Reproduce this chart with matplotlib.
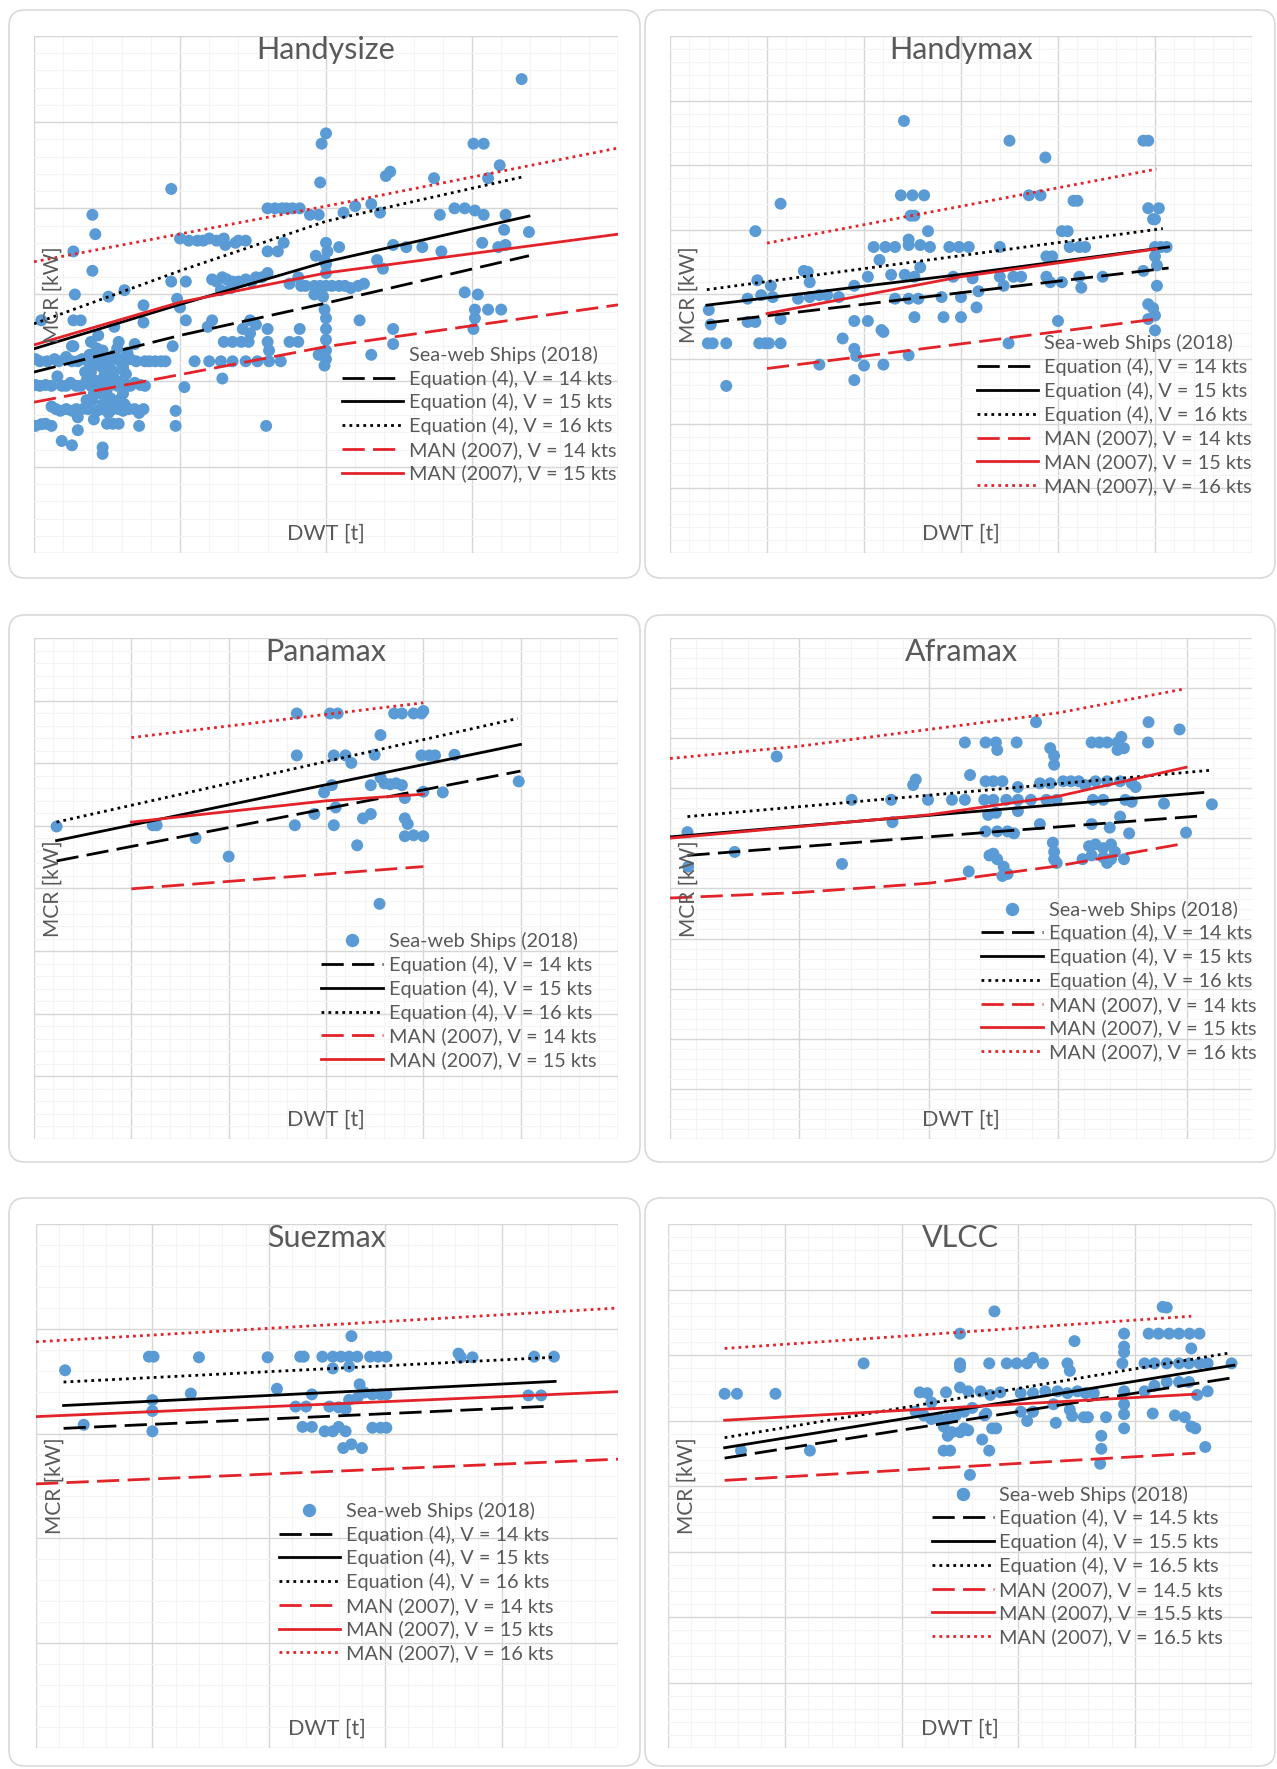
import matplotlib.pyplot as plt
import numpy as np
from matplotlib.patches import FancyBboxPatch
from matplotlib.lines import Line2D
from matplotlib.ticker import MultipleLocator, AutoMinorLocator
from matplotlib.transforms import IdentityTransform

plt.rcParams['font.family'] = ['Lato', 'DejaVu Sans']

# ---------------------------------------------------------------
# Data.  DWT in kt, MCR in MW (drawn as t / kW)
# ---------------------------------------------------------------
handysize_dwt = [43.4, 30.0, 29.7, 40.1, 40.8, 41.9, 41.1, 34.1, 34.4, 29.6, 37.4, 19.4, 14.0, 14.2, 12.7,
                 14.0, 12.8, 15.1, 16.2, 10.5, 12.7, 13.2, 26.0, 27.0, 27.7, 28.9, 29.5, 31.2, 32.0, 33.1,
                 33.7, 37.8, 38.8, 39.5, 40.2, 40.8, 42.3, 42.2, 43.9, 40.7, 41.8, 42.3, 20.0, 21.2, 22.0,
                 23.0, 23.1, 23.8, 24.0, 26.0, 26.7, 27.1, 30.0, 30.1, 30.9, 29.3, 29.9, 34.6, 35.5, 36.6,
                 37.9, 33.5, 33.9, 19.4, 20.4, 19.8, 20.0, 20.4, 22.8, 23.5, 22.2, 22.9, 23.6, 24.5, 25.2,
                 26.0, 28.1, 28.6, 29.2, 30.0, 30.9, 31.7, 32.6, 29.8, 29.9, 29.2, 32.3, 39.5, 40.4, 40.2,
                 40.2, 41.1, 42.0, 40.1, 34.6, 34.6, 26.0, 25.2, 24.3, 22.2, 21.9, 28.2, 27.5, 28.1, 30.0,
                 30.0, 30.0, 26.0, 26.1, 23.0, 23.6, 24.2, 24.7, 29.5, 30.0, 33.1, 19.5, 21.0, 22.0, 22.8,
                 23.6, 24.5, 25.3, 26.1, 26.9, 22.9, 20.3, 25.9, 19.7, 19.7,
                 10.1, 11.4, 12.2, 13.3, 14.4, 15.5, 16.6, 17.6, 18.7, 10.1, 10.8, 11.6, 12.5, 13.6, 14.4,
                 15.3, 16.1, 16.9, 17.3, 12.7, 13.9, 14.7, 15.8, 16.9, 17.5, 17.5, 13.9, 14.7, 15.5, 16.1,
                 15.0, 14.1, 15.2, 16.1, 11.8, 12.6, 13.4, 14.3, 15.1, 16.1, 17.2, 13.6, 14.7, 13.0, 14.1,
                 10.1, 10.8, 13.0, 15.0, 15.8, 17.2, 11.9, 12.6, 14.7, 14.7, 12.6, 11.2, 14.4, 15.5, 15.0,
                 15.7,
                 10.4, 10.9, 11.7, 12.6, 13.0, 13.7, 14.0, 14.9, 15.2, 15.9, 16.2, 17.0, 17.9, 18.3, 19.0,
                 10.4, 11.2, 11.9, 12.2, 12.9, 13.2, 13.9, 14.7, 15.0, 15.7, 16.4, 16.6, 17.6,
                 13.5, 13.8, 14.2, 14.5, 14.8, 15.1, 15.3, 15.6, 15.9, 16.3, 14.0, 14.6, 15.0, 15.4, 15.8,
                 16.2, 14.3, 15.7, 16.4,
                 11.5, 12.2, 12.9, 13.7, 14.6, 15.4, 15.8, 16.5, 16.9, 17.5, 10.5, 11.2, 15.4,
                 24.8, 24.8, 20.6, 21.6, 22.5, 24.5, 22.5, 23.2, 24.0, 24.9, 25.6, 27.5, 28.3, 29.6, 30.4,
                 31.3, 32.2, 26.5, 27.3, 28.2, 30.0, 30.0, 30.0, 29.9]
handysize_mcr = [11.0, 9.74, 9.5, 9.5, 9.5, 9.0, 8.7, 8.75, 8.85, 8.6, 8.7, 8.45, 7.85, 7.4, 7.0,
                 6.55, 6.0, 5.95, 6.1, 5.4, 5.4, 5.4, 8.0, 8.0, 8.0, 7.85, 7.85, 7.9, 8.05, 8.1,
                 7.9, 7.85, 8.0, 8.0, 7.95, 7.85, 7.85, 7.5, 7.45, 7.2, 7.1, 7.15, 7.3, 7.25, 7.3,
                 7.3, 7.15, 7.2, 7.25, 7.0, 7.0, 7.2, 7.2, 7.0, 7.1, 6.9, 6.8, 7.15, 7.1, 7.1,
                 7.0, 6.8, 6.6, 6.3, 6.3, 5.9, 5.7, 5.4, 6.1, 6.15, 6.35, 6.4, 6.3, 6.35, 6.4,
                 6.5, 6.4, 6.2, 6.2, 6.2, 6.2, 6.15, 6.25, 5.95, 5.65, 6.0, 5.4, 6.05, 6.0, 5.65,
                 5.45, 5.65, 5.65, 5.2, 5.2, 4.85, 5.2, 5.3, 5.2, 5.4, 5.25, 5.2, 4.9, 4.9, 5.2,
                 4.95, 4.7, 4.9, 4.7, 4.9, 4.9, 4.9, 4.9, 4.6, 4.5, 4.6, 4.8, 4.45, 4.45, 4.45,
                 4.45, 4.45, 4.45, 4.45, 4.45, 4.05, 3.85, 2.95, 3.3, 2.95,
                 4.5, 4.5, 4.55, 4.5, 4.55, 4.6, 4.5, 4.45, 4.45, 3.9, 3.9, 4.1, 3.95, 4.0, 3.95,
                 3.95, 4.0, 3.95, 3.9, 4.8, 4.9, 4.7, 4.9, 4.85, 5.35, 5.75, 4.2, 4.3, 4.2, 4.3,
                 4.1, 3.7, 3.6, 3.7, 3.3, 3.3, 3.35, 3.3, 3.25, 3.3, 3.25, 3.55, 3.45, 3.15, 3.1,
                 2.95, 3.0, 2.85, 3.0, 3.0, 2.95, 2.6, 2.5, 2.45, 2.3, 4.8, 3.4, 5.05, 5.25, 3.8,
                 3.9,
                 4.45, 4.45, 4.45, 4.45, 4.45, 4.45, 4.45, 4.45, 4.45, 4.45, 4.45, 4.45, 4.45, 4.45, 4.45,
                 3.88, 3.88, 3.88, 3.88, 3.88, 3.88, 3.88, 3.88, 3.88, 3.88, 3.88, 3.88, 3.88,
                 4.2, 4.6, 4.0, 4.35, 4.1, 4.45, 4.25, 4.0, 4.5, 4.15, 3.55, 3.7, 3.5, 3.4, 3.55,
                 3.45, 4.75, 4.75, 4.65,
                 3.34, 3.34, 3.34, 3.34, 3.34, 3.34, 3.34, 3.34, 3.34, 3.34, 2.99, 2.95, 3.0,
                 5.4, 5.1, 7.25, 7.25, 7.25, 7.25, 6.3, 6.35, 6.3, 6.3, 6.4, 6.25, 6.2, 6.2, 6.2,
                 6.2, 6.2, 8.0, 8.0, 8.0, 5.45, 6.5, 6.7, 4.35]
handysize_speeds = [14, 15, 16]
handysize_lines = {
    'eq_lo': ([10, 20, 30, 43.9], [4.20, 5.05, 5.80, 6.90]),
    'eq_mid': ([10, 20, 30, 43.9], [4.74, 5.77, 6.76, 7.82]),
    'eq_hi': ([10, 20, 30, 43.6], [5.32, 6.55, 7.70, 8.74]),
    'man_lo': ([10, 20, 30, 50], [3.50, 4.14, 4.79, 5.76]),
    'man_mid': ([10, 20, 30, 50], [4.83, 5.82, 6.50, 7.40]),
    'man_hi': ([10, 30, 50], [6.76, 8.05, 9.40]),
}

handymax_dwt = [42.06, 47.5, 54.4, 54.65, 49.35, 41.9, 42.5, 43.1, 48.5, 49.1, 50.8, 51.0, 42.4, 42.6, 35.7,
                34.4, 43.3, 50.2, 50.5, 54.65, 55.2, 55.0, 54.9, 40.5, 41.1, 41.6, 42.3, 42.9, 43.4, 42.3,
                44.4, 44.9, 45.4, 47.0, 49.4, 49.7, 50.6, 51.1, 51.4, 55.0, 55.3, 55.6, 55.0, 55.1, 55.1,
                54.65, 54.9, 55.0, 55.0, 54.65, 40.8, 36.9, 37.2, 37.1, 34.5, 35.2, 34.0, 34.7, 35.3, 36.6,
                37.2, 37.7, 38.1, 38.7, 39.5, 40.2, 41.4, 42.1, 42.6, 42.9, 41.6, 42.3, 42.8, 44.0, 44.6,
                45.0, 45.6, 45.9, 47.0, 47.2, 47.7, 48.1, 49.4, 49.6, 50.2, 51.1, 51.2, 52.3, 54.4, 32.0,
                32.1, 34.0, 34.4, 35.7, 31.95, 32.2, 32.9, 34.6, 34.9, 35.1, 35.7, 39.5, 40.2, 40.9, 41.0,
                42.6, 44.1, 45.0, 45.8, 50.0, 38.9, 39.5, 39.6, 40.0, 37.7, 41.0, 42.3, 39.5, 32.9, 47.45]
handymax_mcr = [13.37, 12.76, 12.76, 12.76, 12.24, 11.07, 11.07, 11.07, 11.07, 11.07, 10.9, 10.9, 10.44, 10.44, 10.81,
                9.96, 9.96, 9.96, 9.96, 10.67, 10.67, 10.33, 10.33, 9.47, 9.47, 9.47, 9.53, 9.53, 9.47, 9.7,
                9.47, 9.47, 9.47, 9.47, 9.18, 9.18, 9.47, 9.47, 9.47, 9.47, 9.47, 9.47, 9.18, 8.9, 8.27,
                7.7, 7.58, 7.35, 6.89, 7.24, 9.07, 8.73, 8.38, 8.7, 8.44, 8.27, 7.87, 7.98, 7.92, 7.87,
                7.92, 7.98, 7.98, 7.92, 8.27, 8.55, 8.61, 8.61, 8.55, 8.84, 7.87, 7.87, 7.87, 7.92, 8.55,
                7.92, 8.5, 8.1, 8.55, 8.27, 8.55, 8.55, 8.55, 8.38, 8.38, 8.55, 8.21, 8.55, 8.73, 7.52,
                7.07, 7.15, 7.15, 7.24, 6.49, 6.49, 6.49, 6.49, 6.49, 6.49, 6.49, 7.18, 7.18, 6.9, 6.84,
                7.3, 7.3, 7.3, 7.6, 7.18, 6.64, 6.32, 6.1, 5.8, 5.83, 5.83, 6.12, 5.35, 5.17, 6.49]
handymax_speeds = [14, 15, 16]
handymax_lines = {
    'eq_lo': ([31.9, 55.7], [7.12, 8.82]),
    'eq_mid': ([31.9, 45, 55.7], [7.67, 8.62, 9.47]),
    'eq_hi': ([31.9, 55.4], [8.15, 10.04]),
    'man_lo': ([35, 55.07], [5.71, 7.24]),
    'man_mid': ([35, 45, 55.07], [7.41, 8.55, 9.41]),
    'man_hi': ([35, 55.07], [9.59, 11.88]),
}

panamax_dwt = [46.16, 51.1, 51.3, 53.3, 55.0, 58.5, 60.2, 60.6, 58.5, 60.4, 61.0, 61.3, 62.5, 62.8, 58.4,
               59.4, 59.9, 60.3, 60.5, 60.4, 61.6, 61.9, 62.3, 62.3, 62.8, 63.0, 63.3, 63.6, 63.9, 64.05,
               64.05, 64.2, 64.05, 64.5, 65.0, 63.5, 63.9, 64.5, 64.9, 65.0, 64.9, 65.3, 65.6, 66.6, 65.0,
               66.0, 69.9, 62.75]
panamax_mcr = [9.98, 10.02, 10.02, 9.61, 9.02, 13.59, 13.59, 13.59, 12.25, 12.25, 12.25, 12.01, 12.27, 12.9, 10.02,
               10.38, 11.07, 11.3, 10.59, 10.02, 9.38, 10.24, 10.38, 11.3, 11.54, 11.36, 11.33, 11.36, 11.3, 10.89,
               10.24, 10.06, 9.67, 9.7, 9.67, 13.59, 13.59, 13.59, 13.59, 13.67, 12.25, 12.25, 12.25, 12.27, 11.09,
               11.07, 11.42, 7.51]
panamax_speeds = [14, 15, 16]
panamax_lines = {
    'eq_lo': ([46.16, 69.99], [8.88, 11.75]),
    'eq_mid': ([46.16, 69.99], [9.53, 12.60]),
    'eq_hi': ([46.16, 69.84], [10.12, 13.43]),
    'man_lo': ([50, 65], [7.99, 8.70]),
    'man_mid': ([50, 60, 65], [10.12, 10.80, 11.01]),
    'man_hi': ([50, 65], [12.82, 13.93]),
}

aframax_dwt = [88.25, 81.35, 81.4, 85.0, 93.3, 94.05, 97.1, 97.2, 98.8, 99.0, 99.95, 101.8, 102.8, 102.8, 103.2,
               103.1, 104.4, 105.2, 105.3, 106.8, 108.3, 104.4, 105.0, 105.7, 104.3, 105.0, 106.0, 106.9, 107.9, 106.9,
               106.9, 104.4, 105.3, 106.1, 106.6, 104.7, 105.3, 105.8, 106.1, 105.7, 105.0, 108.6, 108.6, 109.4, 110.4,
               111.0, 111.6, 109.4, 109.7, 109.7, 109.1, 109.9, 109.6, 109.7, 109.9, 109.7, 112.1, 112.7, 113.5, 112.6,
               113.2, 113.8, 114.6, 114.9, 115.1, 114.6, 112.9, 113.8, 114.8, 115.7, 116.0, 115.2, 115.7, 112.6, 114.0,
               114.8, 115.5, 112.4, 112.9, 113.5, 114.1, 114.4, 111.9, 112.6, 113.5, 114.1, 115.1, 113.8, 117.0, 116.96,
               118.2, 119.4, 119.9, 121.9, 104.6, 105.2]
aframax_mcr = [15.27, 12.25, 10.87, 11.46, 10.98, 13.54, 13.54, 12.65, 14.13, 14.35, 13.54, 13.54, 13.54, 15.83, 14.53,
               10.68, 15.83, 15.83, 15.53, 15.83, 16.64, 14.28, 14.28, 14.28, 13.54, 13.54, 13.54, 13.54, 13.54, 14.05,
               13.09, 12.28, 12.28, 12.28, 12.2, 11.32, 11.17, 10.87, 10.58, 10.5, 11.39, 12.57, 14.2, 14.2, 14.28,
               14.28, 14.28, 15.6, 15.3, 14.94, 13.54, 13.54, 11.83, 11.46, 11.02, 11.17, 14.13, 13.54, 13.54, 15.83,
               15.83, 15.83, 15.83, 16.05, 15.6, 15.53, 14.28, 14.28, 14.28, 14.2, 14.05, 13.54, 13.46, 12.57, 12.43,
               12.87, 12.2, 11.69, 11.76, 11.61, 11.76, 11.46, 11.17, 11.32, 11.24, 11.17, 11.17, 11.02, 16.64, 15.83,
               13.39, 16.35, 12.23, 13.36, 12.94, 13.02]
aframax_speeds = [14, 15, 16]
aframax_lines = {
    'eq_lo': ([81.35, 121.35], [11.32, 12.91]),
    'eq_mid': ([80, 121.2], [12.06, 13.83]),
    'eq_hi': ([81.35, 121.8], [12.87, 14.72]),
    'man_lo': ([80, 90, 100, 110, 119.8], [9.62, 9.84, 10.21, 10.90, 11.80]),
    'man_mid': ([80, 90, 100, 110, 119.9], [12.01, 12.47, 12.94, 13.68, 14.84]),
    'man_hi': ([80, 90, 100, 110, 119.8], [15.19, 15.68, 16.35, 17.01, 17.97]),
}

suezmax_dwt = [132.5, 134.1, 139.7, 140.1, 140.0, 140.0, 140.0, 143.3, 144.0, 149.9, 150.7, 152.7, 153.0, 152.3, 153.2,
               153.7, 152.9, 153.7, 154.6, 155.5, 156.2, 156.9, 157.6, 155.5, 157.1, 156.9, 158.7, 159.4, 160.1, 155.2,
               156.0, 156.6, 156.9, 157.6, 158.2, 157.8, 158.9, 159.6, 160.1, 154.8, 155.5, 156.0, 156.6, 156.4, 157.1,
               158.0, 158.9, 159.6, 160.1, 166.3, 166.5, 167.5, 172.3, 173.4, 172.8, 174.5]
suezmax_mcr = [18.02, 15.42, 18.67, 18.67, 16.6, 16.08, 15.11, 16.91, 18.64, 18.64, 17.14, 18.67, 18.67, 16.29, 16.29,
               16.87, 15.32, 15.32, 18.67, 18.67, 18.67, 18.67, 18.67, 18.11, 19.65, 18.2, 18.67, 18.67, 18.67, 16.29,
               16.25, 16.17, 16.61, 16.7, 16.96, 17.35, 16.87, 16.87, 16.87, 15.11, 15.11, 15.32, 15.11, 14.31, 14.49,
               14.31, 15.28, 15.28, 15.28, 18.82, 18.64, 18.64, 16.82, 16.82, 18.67, 18.67]
suezmax_speeds = [14, 15, 16]
suezmax_lines = {
    'eq_lo': ([132.37, 174.24], [15.25, 16.31]),
    'eq_mid': ([132.37, 174.6], [16.34, 17.49]),
    'eq_hi': ([132.37, 174.4], [17.46, 18.64]),
    'man_lo': ([130, 180], [12.60, 13.78]),
    'man_mid': ([130, 180], [15.81, 17.0]),
    'man_hi': ([130, 180], [19.38, 20.99]),
}

vlcc_dwt = [229.7, 231.8, 238.4, 232.5, 244.3, 253.5, 275.9, 270.0, 270.0, 270.0, 275.0, 278.0, 279.7, 281.5, 282.5,
            284.2, 288.4, 288.8, 289.6, 263.1, 264.4, 265.1, 267.6, 270.0, 271.4, 273.5, 275.2, 276.9, 262.4, 263.8,
            265.1, 266.5, 267.9, 269.3, 270.7, 272.1, 274.2, 267.2, 268.6, 270.0, 271.4, 267.9, 270.7, 267.2, 268.3,
            273.8, 275.0, 275.5, 276.2, 274.5, 271.7, 270.5, 280.4, 282.5, 284.6, 286.7, 288.4, 290.1, 291.5, 292.9,
            280.4, 281.5, 282.5, 286.0, 286.4, 288.8, 289.2, 291.2, 291.9, 295.0, 294.2, 294.2, 294.0, 298.1, 298.1,
            298.1, 297.8, 298.1, 298.1, 298.1, 298.1, 303.0, 302.3, 304.0, 305.8, 307.5, 309.3, 311.0, 304.7, 305.4,
            301.6, 303.3, 305.4, 307.5, 309.2, 311.0, 312.4, 309.6, 301.6, 303.3, 305.4, 307.5, 309.2, 310.6, 312.4,
            306.8, 308.5, 309.6, 310.3, 312.0, 316.5]
vlcc_mcr = [27.04, 27.04, 27.04, 22.7, 22.7, 29.36, 33.33, 31.63, 29.36, 29.08, 29.36, 29.36, 29.36, 29.36, 29.79,
            29.36, 29.36, 28.79, 31.06, 27.15, 27.09, 26.38, 27.15, 27.52, 27.23, 27.23, 26.95, 27.15, 25.67, 25.39,
            25.11, 25.11, 25.11, 25.39, 25.67, 25.96, 25.39, 24.54, 24.11, 24.11, 24.25, 23.83, 24.4, 22.7, 22.7,
            23.55, 22.7, 24.4, 24.4, 25.53, 20.85, 19.38, 27.09, 27.09, 27.23, 27.23, 27.09, 27.23, 27.09, 27.09,
            25.67, 24.96, 25.67, 26.24, 24.82, 25.82, 25.33, 25.25, 25.25, 25.25, 23.83, 22.84, 21.7, 31.63, 30.64,
            30.21, 29.36, 27.23, 26.24, 25.48, 24.4, 25.53, 31.63, 31.63, 31.63, 31.63, 31.63, 31.63, 33.67, 33.62,
            29.36, 29.36, 29.36, 29.36, 29.36, 29.36, 29.36, 30.5, 27.23, 27.66, 27.94, 27.94, 27.94, 26.95, 27.23,
            25.39, 25.25, 24.54, 24.4, 22.98, 29.36]
vlcc_speeds = [14.5, 15.5, 16.5]
vlcc_lines = {
    'eq_lo': ([229.7, 316.9], [22.13, 28.28]),
    'eq_mid': ([229.7, 316.9], [22.92, 29.22]),
    'eq_hi': ([229.7, 315.8], [23.69, 30.13]),
    'man_lo': ([229.7, 310.3], [20.43, 22.50]),
    'man_mid': ([229.7, 310.3], [25.02, 27.01]),
    'man_hi': ([229.7, 309.6], [30.50, 32.96]),
}

# ---------------------------------------------------------------
# Styling / layout
# ---------------------------------------------------------------
W, H = 1277, 1769
BLUE = '#5b9bd5'
RED = '#e3232a'
GREY = '#595959'
DASH = (0, (8, 3))
DOT = (0, (1, 1.5))

line_order = ['eq_lo', 'eq_mid', 'eq_hi', 'man_lo', 'man_mid', 'man_hi']
line_style = {
    'eq_lo': ('k', DASH), 'eq_mid': ('k', '-'), 'eq_hi': ('k', DOT),
    'man_lo': (RED, DASH), 'man_mid': (RED, '-'), 'man_hi': (RED, DOT),
}

# title, dwt, mcr, lines, speeds, xlim, xstep, ylim, ystep,
# axes px (l, t, r, b), box px (l, t, r, b), legend anchor, legend dot, man_hi in legend
panels = [
    ('Handysize', handysize_dwt, handysize_mcr, handysize_lines, handysize_speeds,
     (10, 50), 10, (0, 12), 2, (34, 36, 618, 553), (9, 10, 640, 578), (0.527, 0.401), False, False),
    ('Handymax', handymax_dwt, handymax_mcr, handymax_lines, handymax_speeds,
     (30, 60), 5, (0, 16), 2, (670, 36, 1252, 553), (645, 10, 1275, 578), (0.527, 0.423), False, True),
    ('Panamax', panamax_dwt, panamax_mcr, panamax_lines, panamax_speeds,
     (45, 75), 5, (0, 16), 2, (34, 638, 618, 1139), (9, 615, 640, 1162), (0.492, 0.413), True, False),
    ('Aframax', aframax_dwt, aframax_mcr, aframax_lines, aframax_speeds,
     (80, 125), 10, (0, 20), 2, (670, 638, 1252, 1139), (645, 615, 1275, 1162), (0.535, 0.476), True, True),
    ('Suezmax', suezmax_dwt, suezmax_mcr, suezmax_lines, suezmax_speeds,
     (130, 180), 10, (0, 25), 5, (36, 1224, 618, 1748), (9, 1198, 640, 1766), (0.417, 0.470), True, True),
    ('VLCC', vlcc_dwt, vlcc_mcr, vlcc_lines, vlcc_speeds,
     (220, 320), 20, (0, 40), 5, (668, 1224, 1252, 1748), (645, 1198, 1275, 1766), (0.452, 0.501), True, True),
]

fig = plt.figure(figsize=(W / 100, H / 100), dpi=100)
fig.patch.set_facecolor('white')

for (title, dwt, mcr, lines, speeds, xlim, xstep, ylim, ystep,
     apx, bpx, leg_anchor, leg_dot, leg_man_hi) in panels:
    # rounded panel frame (pixel coordinates, origin bottom-left)
    bl, bt, br, bb = bpx
    frame = FancyBboxPatch((bl, H - bb), br - bl, bb - bt,
                           boxstyle='round,pad=0,rounding_size=16',
                           transform=IdentityTransform(), facecolor='none',
                           edgecolor='#d9d9d9', linewidth=1.2, zorder=0)
    fig.patches.append(frame)

    l, t, r, b = apx
    ax = fig.add_axes([l / W, 1 - b / H, (r - l) / W, (b - t) / H])
    ax.set_facecolor('none')
    ax_h = b - t

    k = 1000
    ax.set_xlim(xlim[0] * k, xlim[1] * k)
    ax.set_ylim(ylim[0] * k, ylim[1] * k)
    ax.xaxis.set_major_locator(MultipleLocator(xstep * k))
    ax.yaxis.set_major_locator(MultipleLocator(ystep * k))
    ax.xaxis.set_minor_locator(AutoMinorLocator(5))
    ax.yaxis.set_minor_locator(AutoMinorLocator(5))
    ax.set_axisbelow(True)
    ax.grid(which='major', color='#d6d6d6', linewidth=1.0)
    ax.grid(which='minor', color='#f4f4f4', linewidth=0.8)
    ax.tick_params(which='both', length=0, labelbottom=False, labelleft=False)
    for s in ax.spines.values():
        s.set_visible(False)

    ax.scatter(np.array(dwt) * k, np.array(mcr) * k, s=74, color=BLUE,
               edgecolors='none', zorder=3)

    labels = {}
    for key in ['eq', 'man']:
        src = 'Equation (4)' if key == 'eq' else 'MAN (2007)'
        for tag, v in zip(['lo', 'mid', 'hi'], speeds):
            labels[key + '_' + tag] = f'{src}, V = {v:g} kts'

    handles = [Line2D([], [], ls='none', marker='o', ms=8.6, color=BLUE,
                      alpha=1.0 if leg_dot else 0.0)]
    names = ['Sea-web Ships (2018)']
    for key in line_order:
        xs, ys = lines[key]
        col, ls = line_style[key]
        ln, = ax.plot(np.array(xs) * k, np.array(ys) * k, color=col, linestyle=ls,
                      linewidth=2.0, zorder=4)
        if key == 'man_hi' and not leg_man_hi:
            continue
        handles.append(ln)
        names.append(labels[key])

    ax.legend(handles, names, loc='upper left', bbox_to_anchor=leg_anchor,
              frameon=False, fontsize=14.3, handlelength=3.1, handletextpad=0.3,
              labelspacing=0.29, borderpad=0, borderaxespad=0, labelcolor=GREY)

    ax.text(0.5, 1 - 14 / ax_h, title, transform=ax.transAxes, ha='center',
            va='center', fontsize=22, color=GREY, zorder=5)
    ax.text(0.5, 19 / ax_h, 'DWT [t]', transform=ax.transAxes, ha='center',
            va='center', fontsize=15.5, color=GREY, zorder=5)
    ax.text(19 / (r - l), 0.5, 'MCR [kW]', transform=ax.transAxes, ha='center',
            va='center', rotation=90, fontsize=15, color=GREY, zorder=5)

fig.savefig('out.png', dpi=100, facecolor='white')
